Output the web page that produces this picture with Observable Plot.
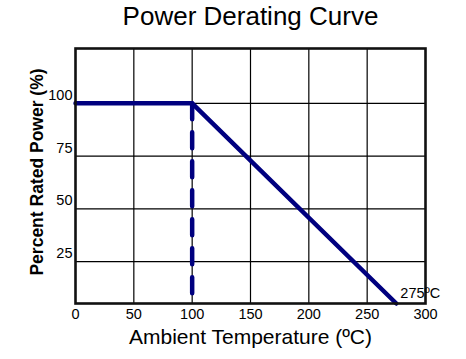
<!DOCTYPE html>
<html><head><meta charset="utf-8">
<script src="https://cdn.jsdelivr.net/npm/d3@7"></script>
<script src="https://cdn.jsdelivr.net/npm/@observablehq/plot@0.6"></script>
<style>body{margin:0;background:#fff}</style>
</head><body><div id="chart"></div>
<script>
const title = "Power Derating Curve";
const xLabel = "Ambient Temperature (ºC)";
const yLabel = "Percent Rated Power (%)";
const xTicks = [0, 50, 100, 150, 200, 250, 300];
const yTicks = [25, 50, 75, 100];
const curveTemp = [0, 100, 275];
const curvePower = [100, 100, 0];
const kneeTemp = [100, 100];
const kneePower = [100, 0];
const endLabel = "275ºC";
const endPoint = [{t: 275, p: 0}];

const W = 466, H = 359, mt = 48, mb = 56, ml = 75, mr = 41;
const curve = curveTemp.map((t, i) => ({t, p: curvePower[i]}));
const knee = kneeTemp.map((t, i) => ({t, p: kneePower[i]}));
const navy = "#00007f";
// the reference's y axis is compressed below 25%: 0–25 spans less height than each 25% band above
const yBase = 5.1;
const yWarp = v => (v >= 25 ? v : yBase + v * (25 - yBase) / 25);

const chart = Plot.plot({
  width: W, height: H,
  marginTop: mt, marginBottom: mb, marginLeft: ml, marginRight: mr,
  style: {fontFamily: "'Liberation Sans', Arial, sans-serif", background: "#fff", color: "#000"},
  x: {domain: [0, 300]},
  y: {domain: [yBase, 126], transform: yWarp},
  marks: [
    Plot.ruleX(xTicks.slice(1, -1), {stroke: "#000", strokeWidth: 1.2}),
    Plot.ruleY(yTicks, {stroke: "#000", strokeWidth: 1.2}),
    Plot.line(knee, {x: "t", y: "p", stroke: navy, strokeWidth: 4.5, strokeDasharray: "16,13"}),
    Plot.line(curve, {x: "t", y: "p", stroke: navy, strokeWidth: 4.5, strokeLinejoin: "miter"}),
    Plot.frame({stroke: "#111", strokeWidth: 2.6}),
    Plot.axisX(xTicks, {tickSize: 0, tickPadding: 5, fontSize: 14.5, label: null}),
    Plot.axisY(yTicks, {tickSize: 0, tickPadding: 3, dy: -8, fontSize: 14.5, label: null}),
    Plot.text([title], {text: d => d, frameAnchor: "top", dy: -24, lineAnchor: "bottom", textAnchor: "middle", fontSize: 26}),
    Plot.text([xLabel], {text: d => d, frameAnchor: "bottom", dy: 40, lineAnchor: "bottom", textAnchor: "middle", fontSize: 21}),
    Plot.text([yLabel], {text: d => d, frameAnchor: "left", rotate: -90, dx: -33, dy: -4, lineAnchor: "bottom", textAnchor: "middle", fontSize: 17.5, fontWeight: "bold"}),
    Plot.text(endPoint, {x: "t", y: "p", text: () => endLabel, textAnchor: "start", dx: 4, dy: -10, fontSize: 14.5})
  ]
});
document.getElementById("chart").appendChild(chart);
</script>
</body></html>
